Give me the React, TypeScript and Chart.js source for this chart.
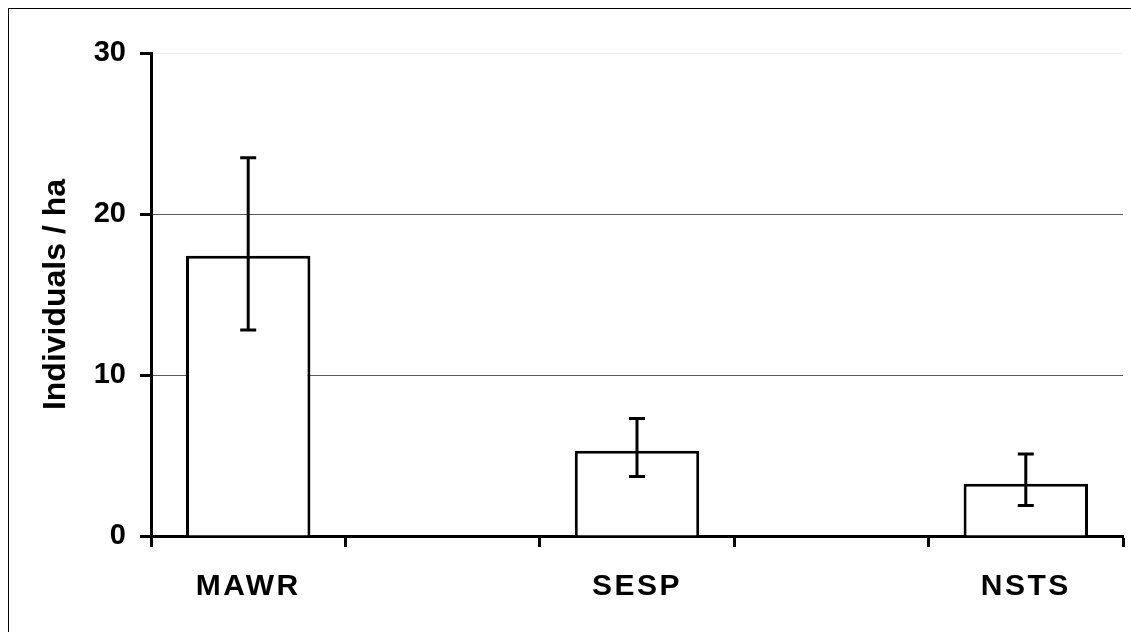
import React, { useEffect, useRef } from "react";
import { Chart, registerables } from "chart.js";

Chart.register(...registerables);

const categories = ["MAWR", "", "SESP", "", "NSTS"];
const means = [17.4, null, 5.3, null, 3.25];
const errLow = [12.8, null, 3.7, null, 1.9];
const errHigh = [23.5, null, 7.3, null, 5.1];
const yMin = 0;
const yMax = 30;
const yStep = 10;
const yTitle = "Individuals / ha";

const FONT = "'Liberation Sans', Arial, sans-serif";

const errorBarPlugin = {
  id: "errorBars",
  afterDatasetsDraw(chart: any) {
    const ctx = chart.ctx;
    const xs = chart.scales.x;
    const ys = chart.scales.y;
    ctx.save();
    ctx.strokeStyle = "#000";
    ctx.lineWidth = 3;
    ctx.lineCap = "butt";
    for (let i = 0; i < categories.length; i++) {
      const lo = errLow[i];
      const hi = errHigh[i];
      if (lo == null || hi == null) continue;
      const x = xs.getPixelForValue(i);
      const yl = ys.getPixelForValue(lo);
      const yh = ys.getPixelForValue(hi);
      const cap = 8;
      ctx.beginPath();
      ctx.moveTo(x, yh);
      ctx.lineTo(x, yl);
      ctx.moveTo(x - cap, yh);
      ctx.lineTo(x + cap, yh);
      ctx.moveTo(x - cap, yl);
      ctx.lineTo(x + cap, yl);
      ctx.stroke();
    }
    ctx.restore();
  },
};

const letterSpacingPlugin = {
  id: "xLetterSpacing",
  beforeDraw(chart: any) {
    const s = chart.scales.x;
    if (s && !s.__spaced) {
      const orig = s.drawLabels;
      s.drawLabels = function (area: any) {
        const c = this.ctx;
        c.save();
        (c as any).letterSpacing = "2.5px";
        orig.call(this, area);
        c.restore();
      };
      s.__spaced = true;
    }
  },
};

export default function App() {
  const ref = useRef<HTMLCanvasElement | null>(null);

  useEffect(() => {
    if (!ref.current) return;
    const chart = new Chart(ref.current, {
      type: "bar",
      data: {
        labels: categories,
        datasets: [
          {
            data: means as any,
            backgroundColor: "#ffffff",
            borderColor: "#000000",
            borderWidth: 3,
            borderSkipped: "start",
            barPercentage: 0.64,
            categoryPercentage: 1,
          },
        ],
      },
      options: {
        animation: false,
        responsive: false,
        events: [],
        layout: { padding: { top: 44, right: 8, left: 0, bottom: 0 } },
        plugins: {
          legend: { display: false },
          tooltip: { enabled: false },
        },
        scales: {
          x: {
            offset: true,
            grid: {
              offset: true,
              drawOnChartArea: false,
              drawTicks: true,
              tickLength: 11,
              color: "#000",
              tickColor: "#000",
              tickWidth: 3,
            },
            border: { display: true, color: "#000", width: 3 },
            ticks: {
              color: "#000",
              padding: 22,
              autoSkip: false,
              maxRotation: 0,
              font: { family: FONT, size: 30, weight: "bold" },
            },
            afterFit(scale: any) {
              scale.height = 96;
            },
          },
          y: {
            min: yMin,
            max: yMax,
            ticks: {
              stepSize: yStep,
              color: "#000",
              padding: 14,
              font: { family: FONT, size: 29, weight: "bold" },
            },
            grid: {
              drawTicks: true,
              tickLength: 11,
              lineWidth: 1,
              color: (c: any) =>
                c.tick && c.tick.value === yMax ? "#eeeeee" : "#5a5a5a",
              tickColor: "#000",
              tickWidth: 3,
            },
            border: { display: true, color: "#000", width: 3 },
            title: {
              display: true,
              text: yTitle,
              color: "#000",
              padding: { top: 28, bottom: 0 },
              font: { family: FONT, size: 32, weight: "bold" },
            },
            afterFit(scale: any) {
              scale.width = 142;
            },
          },
        },
      },
      plugins: [errorBarPlugin, letterSpacingPlugin],
    });
    return () => chart.destroy();
  }, []);

  return (
    <div
      style={{
        position: "fixed",
        left: 8,
        top: 8,
        width: 1123,
        height: 624,
        borderLeft: "1px solid #000",
        borderTop: "1px solid #000",
        background: "#fff",
        boxSizing: "border-box",
      }}
    >
      <canvas ref={ref} width={1122} height={623} style={{ display: "block" }} />
    </div>
  );
}
